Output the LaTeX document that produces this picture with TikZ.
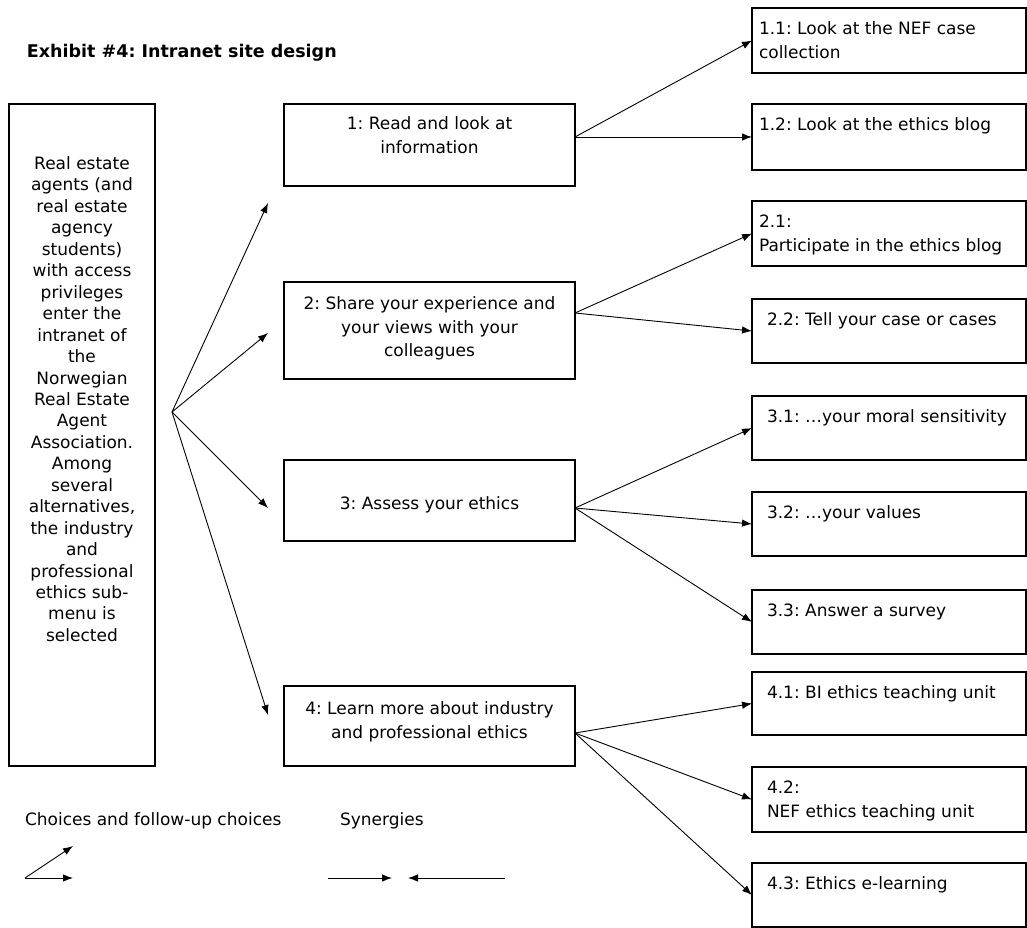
\documentclass[tikz,border=0pt]{standalone}
\usepackage{fontspec}
\setmainfont{DejaVu Sans}
\usetikzlibrary{positioning, arrows.meta}
\frenchspacing
\newcommand{\boxtext}[3]{\parbox[c][#1][t]{#2}{#3}}
\newcommand{\topgap}[1]{\rule{0pt}{#1}}
\newcommand{\subtext}[3]{\parbox[c][#1][t]{274pt}{\raggedright\leftskip=#2\relax\rule{0pt}{26.5pt}#3}}

\begin{document}
\begin{tikzpicture}[
        x=1pt, y=-1pt,
        every node/.style={inner sep=0pt, outer sep=0pt},
        mainbox/.style={draw, line width=1.3pt, anchor=north west, font=\fontsize{17}{23.5}\selectfont},
        leftbox/.style={draw, line width=1.3pt, anchor=north west, font=\fontsize{17}{21.45}\selectfont},
        subbox/.style={draw, line width=1.3pt, anchor=north west, font=\fontsize{17}{23.5}\selectfont},
        legend/.style={anchor=base west, font=\fontsize{17}{20}\selectfont},
        arrow/.style={-{Latex[length=10pt,width=7.5pt]}, line width=0.9pt}
        ]
        \useasboundingbox (0,0) rectangle (1027,927);

        \node[anchor=base west, font=\bfseries\fontsize{17.5}{20}\selectfont] (title) at (27,57.5) {Exhibit \#4: Intranet site design};

        \node[leftbox] (agents) at (9,104) {\boxtext{662pt}{146pt}{\centering\topgap{65.5pt}Real estate\\agents (and\\real estate\\agency\\students)\\with access\\privileges\\enter the\\intranet of\\the\\Norwegian\\Real Estate\\Agent\\Association.\\Among\\several\\alternatives,\\the industry\\and\\professional\\ethics sub-\\menu is\\selected}};

        \node[mainbox] (read) at (284,104) {\boxtext{82pt}{291pt}{\centering\topgap{25.5pt}1: Read and look at\\information}};
        \node[mainbox, below=96pt of read] (share) {\boxtext{97pt}{291pt}{\centering\topgap{27.5pt}2: Share your experience and\\your views with your\\colleagues}};
        \node[mainbox, below=81pt of share] (assess) {\boxtext{81pt}{291pt}{\centering\topgap{49.5pt}3: Assess your ethics}};
        \node[mainbox, below=145pt of assess] (learn) {\boxtext{80pt}{291pt}{\centering\topgap{28.5pt}4: Learn more about industry\\and professional ethics}};

        \node[subbox] (r11) at (752,8) {\subtext{65pt}{7pt}{1.1: Look at the NEF case\\collection}};
        \node[subbox, below=31pt of r11] (r12) {\subtext{66pt}{7pt}{1.2: Look at the ethics blog}};
        \node[subbox, below=31pt of r12] (r21) {\subtext{65pt}{7pt}{2.1:\\Participate in the ethics blog}};
        \node[subbox, below=33pt of r21] (r22) {\subtext{64pt}{15pt}{2.2: Tell your case or cases}};
        \node[subbox, below=33pt of r22] (r31) {\subtext{64pt}{15pt}{3.1: …your moral sensitivity}};
        \node[subbox, below=32pt of r31] (r32) {\subtext{64pt}{15pt}{3.2: …your values}};
        \node[subbox, below=34pt of r32] (r33) {\subtext{64pt}{15pt}{3.3: Answer a survey}};
        \node[subbox, below=18pt of r33] (r41) {\subtext{63pt}{15pt}{4.1: BI ethics teaching unit}};
        \node[subbox, below=32pt of r41] (r42) {\subtext{65pt}{15pt}{4.2:\\NEF ethics teaching unit}};
        \node[subbox, below=31pt of r42] (r43) {\subtext{64pt}{15pt}{4.3: Ethics e-learning}};

        \coordinate (hub) at (172,412);
        \coordinate (t1) at (268,203);
        \coordinate (t2) at (268,333);
        \coordinate (t3) at (268,508);
        \coordinate (t4) at (268,715);
        \draw[arrow] (hub) -- (t1);
        \draw[arrow] (hub) -- (t2);
        \draw[arrow] (hub) -- (t3);
        \draw[arrow] (hub) -- (t4);

        \coordinate (s1) at ([yshift=8pt]read.east);
        \coordinate (s2) at ([yshift=17.5pt]share.east);
        \coordinate (s3) at ([yshift=-7.5pt]assess.east);
        \coordinate (s4) at ([yshift=-7pt]learn.east);
        \draw[arrow] (s1) -- (r11.west);
        \draw[arrow] (s1) -- (r12.west);
        \draw[arrow] (s2) -- (r21.west);
        \draw[arrow] (s2) -- (r22.west);
        \draw[arrow] (s3) -- (r31.west);
        \draw[arrow] (s3) -- (r32.west);
        \draw[arrow] (s3) -- (r33.west);
        \draw[arrow] (s4) -- (r41.west);
        \draw[arrow] (s4) -- (r42.west);
        \draw[arrow] (s4) -- (r43.west);

        \node[legend] (choices) at (25,825) {Choices and follow-up choices};
        \node[legend] (synergies) at (340,825) {Synergies};
        \coordinate (c0) at (25,878);
        \coordinate (c1) at (73,878);
        \coordinate (c2) at (73,846);
        \draw[arrow] (c0) -- (c1);
        \draw[arrow] (c0) -- (c2);
        \coordinate (sa) at (328,878);
        \coordinate (sb) at (392,878);
        \coordinate (sc) at (505,878);
        \coordinate (sd) at (408,878);
        \draw[arrow] (sa) -- (sb);
        \draw[arrow] (sc) -- (sd);
\end{tikzpicture}
\end{document}
